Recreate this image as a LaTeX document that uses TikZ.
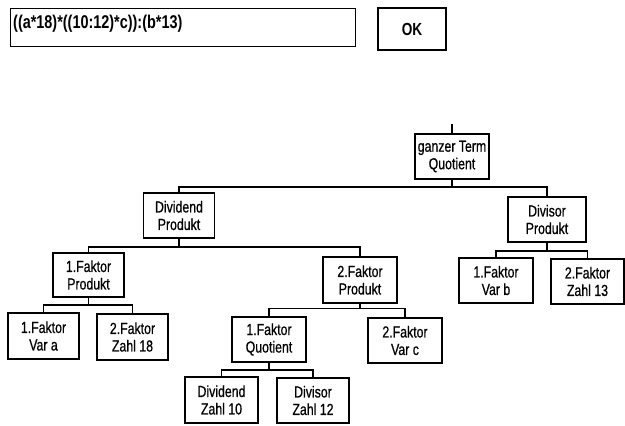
\documentclass[tikz,border=0pt]{standalone}
\usepackage{fontspec}
\setmainfont{Liberation Sans}[FakeStretch=0.78]
\newfontfamily\nodefam{Liberation Sans}[FakeStretch=0.77, FakeBold=0.6]
\begin{document}
\begin{tikzpicture}[x=1pt,y=-1pt,
  box/.style={draw, line width=1.4pt, align=center, inner sep=0pt,
    minimum width=73pt, minimum height=45pt,
    font=\nodefam\fontsize{16}{17.5}\selectfont},
  conn/.style={line width=1.2pt},
  frame/.style={draw, line width=1.4pt, inner sep=0pt}]
\useasboundingbox (0,0) rectangle (625,426);
% input field and OK button
\node[frame, anchor=north west, minimum width=345pt, minimum height=38pt] (inp) at (10,8) {};
\node[anchor=base west, inner sep=0pt, font=\fontsize{18.5}{20}\selectfont\bfseries] (expr) at (13,28) {((a*18)*((10:12)*c)):(b*13)};
\node[frame, minimum width=68pt, minimum height=42pt, font=\fontsize{17.5}{20}\selectfont\bfseries] (ok) at (412,29) {OK};
% tree nodes
\node[box, minimum width=74pt] (root) at (452,156.5) {ganzer Term\\Quotient};
\node[box, minimum width=71pt] (div) at (179,215.5) {Dividend\\Produkt};
\node[box, minimum width=78pt] (dsr) at (547,219.5) {Divisor\\Produkt};
\node[box, minimum width=71pt, minimum height=44pt] (f1p) at (88.5,275) {1.Faktor\\Produkt};
\node[box, minimum width=74pt, minimum height=46pt] (f2p) at (360,280) {2.Faktor\\Produkt};
\node[box, minimum width=71pt, minimum height=46pt] (va) at (43.5,336) {1.Faktor\\Var a};
\node[box, minimum width=71pt, minimum height=46pt] (z18) at (132.5,337) {2.Faktor\\Zahl 18};
\node[box, minimum width=74pt] (fq) at (269,339.5) {1.Faktor\\Quotient};
\node[box, minimum width=74pt] (vc) at (405,340.5) {2.Faktor\\Var c};
\node[box, minimum width=73pt, minimum height=46pt] (z10) at (221.5,400) {Dividend\\Zahl 10};
\node[box, minimum width=72pt] (z12) at (313,400.5) {Divisor\\Zahl 12};
\node[box, minimum width=74pt] (vb) at (496,280.5) {1.Faktor\\Var b};
\node[box, minimum width=73pt] (z13) at (587.5,281.5) {2.Faktor\\Zahl 13};
% bus levels
\coordinate (top) at (452,124);
\coordinate (b0) at (0,187);
\coordinate (b1) at (0,247);
\coordinate (b2) at (0,251);
\coordinate (b3) at (0,305);
\coordinate (b4) at (0,308.5);
\coordinate (b5) at (0,370);
% connectors
\draw[conn] (top) -- (root.north);
\draw[conn] (root.south) -- (root.south |- b0);
\draw[conn] (div.north) -- (div.north |- b0) -- (dsr.north |- b0) -- (dsr.north);
\draw[conn] (div.south) -- (div.south |- b1);
\draw[conn] (f1p.north) -- (f1p.north |- b1) -- (f2p.north |- b1) -- (f2p.north);
\draw[conn] (dsr.south) -- (dsr.south |- b2);
\draw[conn] (vb.north) -- (vb.north |- b2) -- (z13.north |- b2) -- (z13.north);
\draw[conn] (f1p.south) -- (f1p.south |- b3);
\draw[conn] (va.north) -- (va.north |- b3) -- (z18.north |- b3) -- (z18.north);
\draw[conn] (f2p.south) -- (f2p.south |- b4);
\draw[conn] (fq.north) -- (fq.north |- b4) -- (vc.north |- b4) -- (vc.north);
\draw[conn] (fq.south) -- (fq.south |- b5);
\draw[conn] (z10.north) -- (z10.north |- b5) -- (z12.north |- b5) -- (z12.north);
\end{tikzpicture}
\end{document}
